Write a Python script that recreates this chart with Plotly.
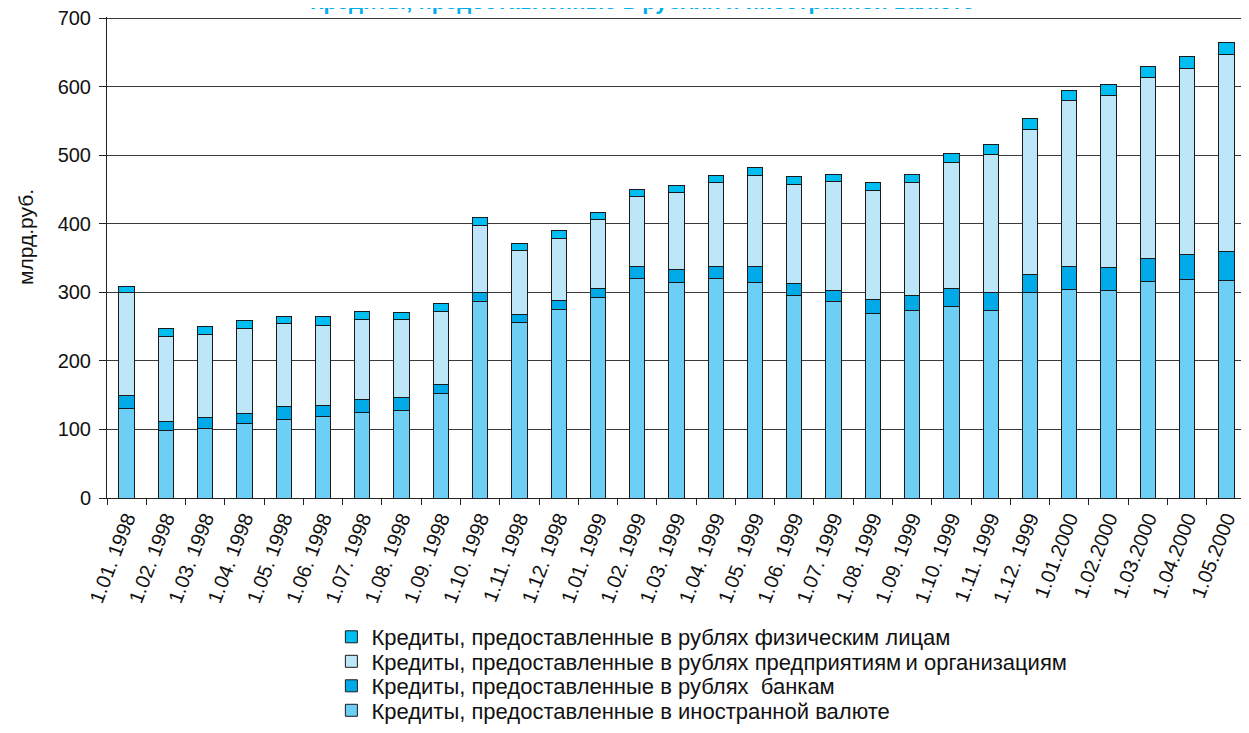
import plotly.graph_objects as go

dates = ["1.01. 1998", "1.02. 1998", "1.03. 1998", "1.04. 1998", "1.05. 1998", "1.06. 1998",
         "1.07. 1998", "1.08. 1998", "1.09. 1998", "1.10. 1998", "1.11. 1998", "1.12. 1998",
         "1.01. 1999", "1.02. 1999", "1.03. 1999", "1.04. 1999", "1.05. 1999", "1.06. 1999",
         "1.07. 1999", "1.08. 1999", "1.09. 1999", "1.10. 1999", "1.11. 1999", "1.12. 1999",
         "1.01.2000", "1.02.2000", "1.03.2000", "1.04.2000", "1.05.2000"]

foreign_currency = [131, 98, 101, 109, 115, 119, 125, 127, 153, 287, 256, 275,
                    292, 320, 315, 320, 315, 296, 286, 269, 274, 280, 273, 299,
                    304, 303, 316, 318, 317]
banks = [19, 14, 16, 14, 18, 16, 18, 19, 13, 13, 12, 13,
         14, 17, 18, 18, 22, 17, 16, 20, 21, 25, 26, 27,
         33, 33, 34, 37, 42]
enterprises = [149, 124, 121, 124, 121, 117, 117, 114, 106, 97, 93, 91,
               100, 102, 112, 122, 133, 144, 159, 160, 165, 184, 202, 212,
               243, 251, 263, 272, 288]
individuals = [10, 11, 12, 12, 11, 12, 12, 11, 11, 12, 10, 11,
               10, 11, 11, 11, 12, 12, 11, 11, 12, 14, 14, 15,
               15, 16, 16, 17, 18]

y_ticks = [0, 100, 200, 300, 400, 500, 600, 700]

series_names = [
    "Кредиты, предоставленные в иностранной валюте",
    "Кредиты, предоставленные в рублях  банкам",
    "Кредиты, предоставленные в рублях предприятиям\u2009и организациям",
    "Кредиты, предоставленные в рублях физическим лицам",
]
series_values = [foreign_currency, banks, enterprises, individuals]
series_colors = ["#6DCFF6", "#00A9E8", "#BEE6F9", "#00BDF2"]
series_legends = ["legend4", "legend3", "legend2", "legend"]

title_text = "Кредиты, предоставленные в рублях и иностранной валюте"
y_title = "млрд.руб."

font_family = "Liberation Sans, Arial, Helvetica, sans-serif"
legend_font = dict(size=22, family=font_family, color="#111111")

fig = go.Figure()
for name, vals, col, lg in zip(series_names, series_values, series_colors, series_legends):
    fig.add_trace(go.Bar(
        x=dates, y=vals, name=name, legend=lg,
        marker=dict(color=col, line=dict(color="#1a1a1a", width=1)),
    ))

legend_common = dict(x=0.197, xanchor="left", yanchor="top", font=legend_font,
                     bgcolor="rgba(0,0,0,0)", itemwidth=30)

fig.update_layout(
    width=1241, height=725,
    barmode="stack",
    bargap=0.61,
    plot_bgcolor="white",
    paper_bgcolor="white",
    font=dict(family=font_family, color="#111111"),
    margin=dict(l=99, r=3, t=9, b=235, autoexpand=False),
    legend=dict(y=-0.2453, **legend_common),
    legend2=dict(y=-0.2963, **legend_common),
    legend3=dict(y=-0.3472, **legend_common),
    legend4=dict(y=-0.3981, **legend_common),
    showlegend=True,
    annotations=[
        dict(text="<b>" + title_text + "</b>", xref="paper", yref="paper",
             x=0.4693, y=1.033, xanchor="center", yanchor="middle", showarrow=False,
             font=dict(size=22, color="#00AEEF", family=font_family)),
        dict(text=y_title, xref="paper", yref="paper", x=-0.072, y=0.5426,
             xanchor="center", yanchor="middle", textangle=-90, showarrow=False,
             font=dict(size=21, family=font_family, color="#111111")),
    ],
)

fig.update_xaxes(
    type="category",
    tickson="boundaries",
    ticks="outside", ticklen=6, tickcolor="#222222", tickwidth=1,
    showline=True, linecolor="#222222", linewidth=1,
    tickangle=-69,
    ticklabeloverflow="allow",
    tickfont=dict(size=20, family=font_family, color="#111111"),
    showgrid=False,
)
fig.update_yaxes(
    range=[0, 701.5],
    tickmode="array",
    tickvals=y_ticks,
    ticks="outside", ticklen=7, tickcolor="#222222", tickwidth=1,
    ticklabelstandoff=4,
    ticklabeloverflow="allow",
    showline=True, linecolor="#222222", linewidth=1,
    showgrid=True, gridcolor="#3a3a3a", gridwidth=1,
    tickfont=dict(size=20, family=font_family, color="#111111"),
    zeroline=False,
)

fig.write_html("out.html")
